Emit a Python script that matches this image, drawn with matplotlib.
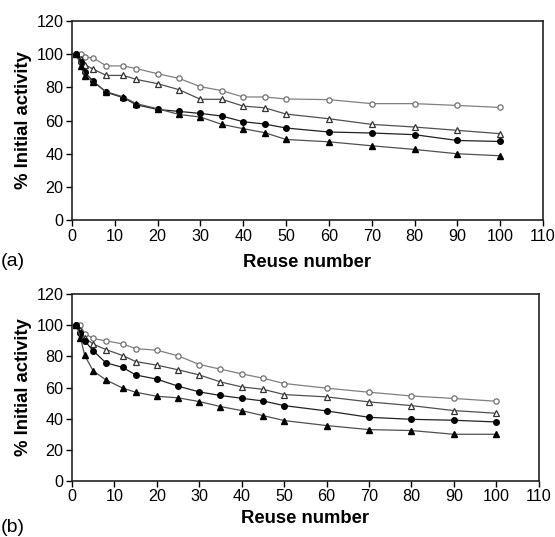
import matplotlib
matplotlib.use("Agg")
import matplotlib.pyplot as plt

plt.rcParams['font.family'] = ['Liberation Sans', 'DejaVu Sans']

# Reuse numbers (x values)
reuse = [1, 2, 3, 5, 8, 12, 15, 20, 25, 30, 35, 40, 45, 50, 60, 70, 80, 90, 100]

# Panel (a)
a_open_circle = [100, 100, 98.3, 97.7, 92.9, 92.9, 91.3, 88.2, 85.4, 80.4, 78, 74.2, 74.2, 73, 72.6, 70.2, 70.2, 69.1, 67.9]
a_open_tri = [100, 97, 93.7, 90.9, 87.2, 87.2, 84.8, 82.2, 78.6, 72.8, 72.8, 68.7, 67.7, 63.9, 61.1, 57.7, 56.1, 54.1, 52.1]
a_fill_circle = [100, 95.5, 89, 83.6, 77, 73.8, 69.5, 66.7, 65.5, 64.3, 62.7, 59.3, 57.9, 55.5, 53.1, 52.5, 51.5, 48, 47.4]
a_fill_tri = [100, 93, 87, 83.2, 77.4, 74.2, 70.2, 67.1, 63.7, 62.1, 57.7, 55.1, 52.7, 48.6, 47.2, 44.8, 42.6, 40, 38.8]

# Panel (b)
b_open_circle = [100, 100, 94.7, 91.5, 90, 88, 85, 84, 80.4, 74.8, 71.8, 68.8, 66, 62.6, 59.6, 57, 54.6, 53, 51.2]
b_open_tri = [100, 97, 92, 87.9, 84.4, 80.5, 76.7, 74.4, 71.4, 68.1, 63.6, 60.4, 58.9, 55.5, 54, 50.8, 48.4, 45.2, 43.5]
b_fill_circle = [100, 95, 90, 83.6, 75.9, 72.9, 68.1, 65.4, 60.9, 57.2, 54.9, 53.1, 51.4, 48.4, 45, 40.9, 39.6, 39, 37.9]
b_fill_tri = [100, 92, 80.6, 70.7, 64.9, 59.6, 57, 54.4, 53.4, 51, 47.8, 45.2, 42, 38.8, 35.6, 33, 32.4, 30, 30]

fig = plt.figure(figsize=(5.55, 5.37), dpi=100)
ax_a = fig.add_axes([0.1297, 0.590, 0.8486, 0.371])
ax_b = fig.add_axes([0.1297, 0.1043, 0.841, 0.348])

panels = [
    (ax_a, "(a)", 1 - 262 / 537, -0.171, a_open_circle, a_open_tri, a_fill_circle, a_fill_tri),
    (ax_b, "(b)", 1 - 527 / 537, -0.155, b_open_circle, b_open_tri, b_fill_circle, b_fill_tri),
]

for ax, tag, tag_y, xlab_y, oc, ot, fc, ft in panels:
    ax.plot(reuse, oc, color="#808080", lw=0.9, marker="o", ms=3.8,
            mfc="white", mec="#707070", mew=0.9)
    ax.plot(reuse, ot, color="#505050", lw=0.9, marker="^", ms=4.5,
            mfc="white", mec="#333333", mew=0.9)
    ax.plot(reuse, fc, color="#222222", lw=0.9, marker="o", ms=4,
            mfc="black", mec="black")
    ax.plot(reuse, ft, color="#505050", lw=0.9, marker="^", ms=4.6,
            mfc="black", mec="black")

    ax.set_xlim(0, 110)
    ax.set_ylim(0, 120)
    ax.set_xticks(range(0, 111, 10))
    ax.set_yticks(range(0, 121, 20))
    ax.tick_params(direction="out", length=4, width=1, labelsize=11.6,
                   colors="black", pad=2)
    for side in ["left", "bottom", "top", "right"]:
        ax.spines[side].set_linewidth(1.2)
        ax.spines[side].set_color("#222222")
    ax.set_ylabel("% Initial activity", fontsize=13.3, fontweight="bold", labelpad=3)
    ax.set_xlabel("Reuse number", fontsize=13.3, fontweight="bold")
    ax.xaxis.set_label_coords(0.5, xlab_y)
    fig.text(0.002, tag_y, tag, fontsize=14, ha="left", va="center")

fig.savefig("out.png", dpi=100)
